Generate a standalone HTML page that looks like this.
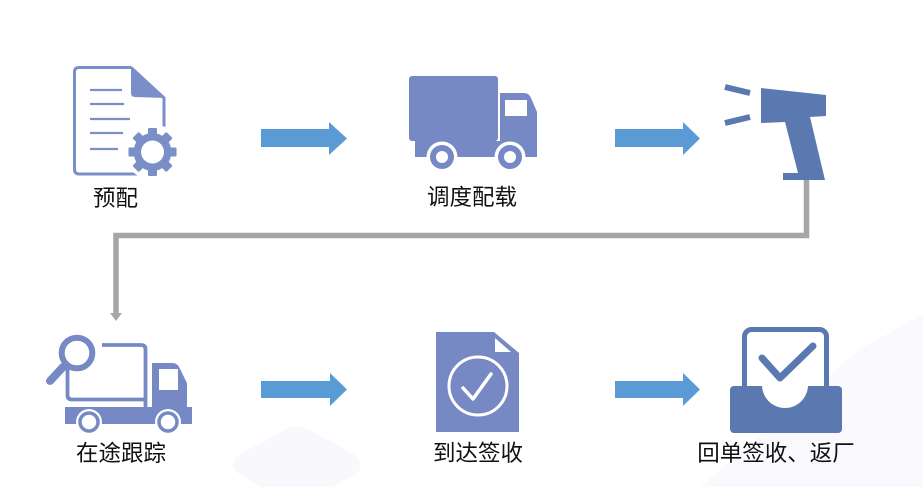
<!DOCTYPE html>
<html><head><meta charset="utf-8"><style>
html,body{margin:0;padding:0;background:#fff;}
svg{display:block;}
text{font-family:"Liberation Sans","Noto Sans CJK SC",sans-serif;font-size:22.5px;fill:#111;}
</style></head><body>
<svg width="923" height="487" viewBox="0 0 923 487" xmlns="http://www.w3.org/2000/svg">
<!-- faint background shapes -->
<path d="M923,314 L860,349 L700,487 L923,487 Z" fill="#f9f9fe"/>
<path d="M284,430 Q297,423 310,430 L355,455 Q367,465 355,474 L318,495 L276,495 L239,474 Q227,465 239,455 Z" fill="#f8f8fd"/>

<!-- Icon 1: document with gear -->
<path d="M131,67.5 L79,67.5 Q74.5,67.5 74.5,72 L74.5,169 Q74.5,174 79,174 L159,174 Q164,174 164,169 L164,98" fill="none" stroke="#7a8ec8" stroke-width="3"/>
<path d="M131,67.5 L164,98" stroke="#7a8ec8" stroke-width="3"/>
<path d="M131,66 L131,93 Q131,97 135,97 L166,98 Z" fill="#7a8ec8"/>
<g stroke="#7a8ec8" stroke-width="2.2">
<line x1="90" y1="90" x2="122" y2="90"/>
<line x1="90" y1="104" x2="124" y2="104"/>
<line x1="90" y1="119" x2="130" y2="119"/>
<line x1="90" y1="133" x2="123" y2="133"/>
<line x1="90" y1="149" x2="118" y2="149"/>
</g>
<circle cx="152.5" cy="152" r="28" fill="#fff"/>
<g fill="#7a8ec8" transform="translate(152.5,152)">
<circle r="19"/>
<rect x="-4.5" y="-24" width="9" height="10" rx="1"/>
<rect x="-4.5" y="-24" width="9" height="10" rx="1" transform="rotate(45)"/>
<rect x="-4.5" y="-24" width="9" height="10" rx="1" transform="rotate(90)"/>
<rect x="-4.5" y="-24" width="9" height="10" rx="1" transform="rotate(135)"/>
<rect x="-4.5" y="-24" width="9" height="10" rx="1" transform="rotate(180)"/>
<rect x="-4.5" y="-24" width="9" height="10" rx="1" transform="rotate(225)"/>
<rect x="-4.5" y="-24" width="9" height="10" rx="1" transform="rotate(270)"/>
<rect x="-4.5" y="-24" width="9" height="10" rx="1" transform="rotate(315)"/>
<circle r="11.5" fill="#fff"/>
</g>
<text x="115.5" y="206" text-anchor="middle">预配</text>

<!-- Arrows row 1 -->
<path d="M261,129 L329,129 L329,122 L347,138.5 L329,155 L329,147 L261,147 Z" fill="#5b9bd5"/>
<path d="M615,129 L683,129 L683,122 L700,138.5 L683,155 L683,147 L615,147 Z" fill="#5b9bd5"/>

<!-- Icon 2: truck -->
<g fill="#7689c4">
<rect x="409" y="76" width="89" height="65" rx="3"/>
<path d="M500,93 L524,93 Q529,93 531,98 L537,112 L537,157 L500,157 Z"/>
<rect x="415" y="141" width="122" height="16"/>
</g>
<rect x="505" y="100" width="22" height="16" fill="#fff"/>
<circle cx="442" cy="157" r="15.5" fill="#fff"/>
<circle cx="442" cy="157" r="12" fill="#7689c4"/>
<circle cx="442" cy="157" r="6" fill="#fff"/>
<circle cx="510" cy="157" r="15.5" fill="#fff"/>
<circle cx="510" cy="157" r="12" fill="#7689c4"/>
<circle cx="510" cy="157" r="6" fill="#fff"/>
<text x="472" y="205" text-anchor="middle">调度配载</text>

<!-- Icon 3: scanner -->
<polygon points="761,88 826,95 826,116 810,117 825,180 783,180 783,173 798,173 785,122 761,123" fill="#5b79b1"/>
<line x1="725" y1="87" x2="750" y2="93" stroke="#5b79b1" stroke-width="6"/>
<line x1="725" y1="123" x2="750" y2="117" stroke="#5b79b1" stroke-width="6"/>

<!-- gray connector -->
<polyline points="806.5,180 806.5,235.5 116,235.5 116,315" fill="none" stroke="#a6a6a6" stroke-width="5.5"/>
<polygon points="110,313 122,313 116,321" fill="#a6a6a6"/>

<!-- Row 2 icon 1: tracking truck -->
<g fill="none" stroke="#7689c4" stroke-width="3.8">
<path d="M102,345 L141,345 Q145.5,345 145.5,349.5 L145.5,408"/>
<path d="M67.5,366 L67.5,395 Q67.5,399.5 72,399.5 L146,399.5"/>
<circle cx="77" cy="353" r="15.3" stroke-width="6"/>
</g>
<line x1="63" y1="367" x2="50" y2="381" stroke="#7689c4" stroke-width="8" stroke-linecap="round"/>
<path d="M152,363 L172,363 Q177,363 179,367 L187,383 L187,424 L152,424 Z" fill="#7689c4"/>
<rect x="159" y="369" width="19" height="21" fill="#fff"/>
<rect x="65" y="407" width="127" height="17" fill="#7689c4"/>
<circle cx="89" cy="422" r="13" fill="#fff"/>
<circle cx="89" cy="422" r="9" fill="#fff" stroke="#7689c4" stroke-width="3.5"/>
<circle cx="168" cy="422" r="13" fill="#fff"/>
<circle cx="168" cy="422" r="9" fill="#fff" stroke="#7689c4" stroke-width="3.5"/>
<text x="121" y="461" text-anchor="middle">在途跟踪</text>

<!-- Arrows row 2 -->
<path d="M261,381 L330,381 L330,373 L347,389.5 L330,406 L330,398 L261,398 Z" fill="#5b9bd5"/>
<path d="M615,381 L683,381 L683,373 L700,389.5 L683,406 L683,398 L615,398 Z" fill="#5b9bd5"/>

<!-- Row 2 icon 2: doc with check -->
<path d="M436,332 L494,332 L519,353 L519,432 L436,432 Z" fill="#7689c4"/>
<polygon points="495,338 495,352 511,352" fill="#fff"/>
<circle cx="478" cy="386" r="29" fill="none" stroke="#fff" stroke-width="3"/>
<polyline points="463,388 473,399 491,374" fill="none" stroke="#fff" stroke-width="3.5" stroke-linecap="round" stroke-linejoin="round"/>
<text x="478" y="461" text-anchor="middle">到达签收</text>

<!-- Row 2 icon 3: tray with check -->
<rect x="744.5" y="329.5" width="82" height="80" rx="7" fill="#fff" stroke="#5b79b1" stroke-width="5"/>
<polyline points="762,358 780,378 813,346" fill="none" stroke="#5b79b1" stroke-width="7" stroke-linecap="round" stroke-linejoin="round"/>
<rect x="730" y="386" width="112" height="47" rx="4" fill="#5b79b1"/>
<path d="M762,385 A23,23 0 0 0 808,385 Z" fill="#fff"/>
<text x="776" y="461" text-anchor="middle">回单签收、返厂</text>
</svg>
</body></html>
